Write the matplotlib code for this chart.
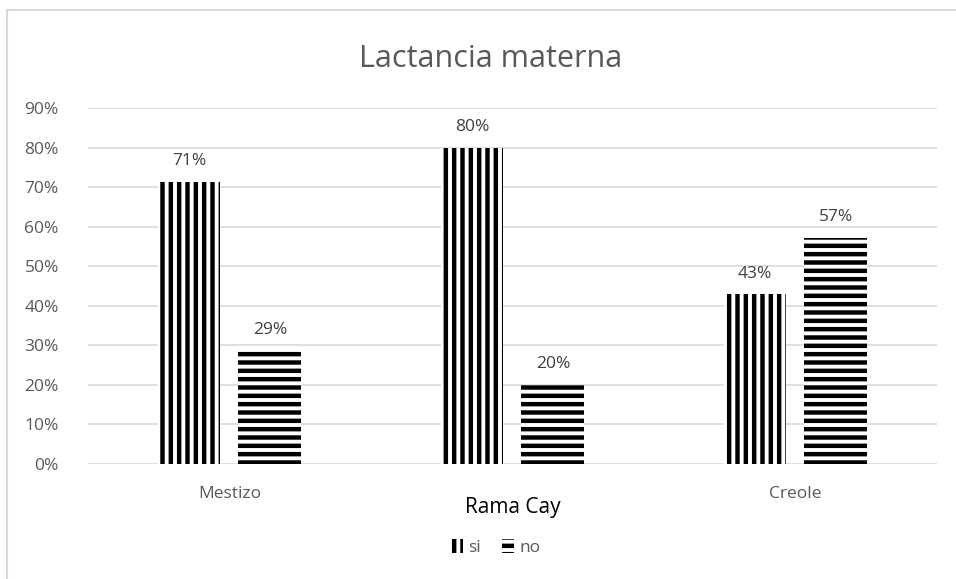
import numpy as np
import matplotlib.pyplot as plt
from matplotlib.lines import Line2D

plt.rcParams['font.family'] = ['Open Sans', 'DejaVu Sans']
plt.rcParams['hatch.linewidth'] = 3.2

# data
groups = ['Mestizo', 'Rama Cay', 'Creole']
si = [0.714, 0.80, 0.429]
no = [0.286, 0.20, 0.571]
si_labels = ['71%', '80%', '43%']
no_labels = ['29%', '20%', '57%']

fig = plt.figure(figsize=(9.56, 5.79), dpi=100)
ax = fig.add_axes([0.092, 0.199, 0.888, 0.6145])

# chart border (left and top visible)
fig.add_artist(Line2D([6.5/956, 6.5/956], [0, 1 - 9.5/579], color='#d9d9d9', lw=1.5))
fig.add_artist(Line2D([6.5/956, 1], [1 - 9.5/579, 1 - 9.5/579], color='#d9d9d9', lw=1.5))

x = np.arange(len(groups))
w = 0.222
off = 0.143
b1 = ax.bar(x - off, si, w, color='white', edgecolor='black', linewidth=0, hatch='||', label='si')
b2 = ax.bar(x + off, no, w, color='white', edgecolor='black', linewidth=0, hatch='--', label='no')

for i in range(len(groups)):
    ax.text(x[i] - off, si[i] + 0.032, si_labels[i], ha='center', va='bottom', fontsize=12.5, color='#404040')
    ax.text(x[i] + off, no[i] + 0.032, no_labels[i], ha='center', va='bottom', fontsize=12.5, color='#404040')

ax.set_xlim(-0.5, 2.5)
ax.set_ylim(0, 0.9)
ax.set_yticks(np.arange(0, 0.91, 0.1))
ax.set_yticklabels([f'{int(round(v*100))}%' for v in np.arange(0, 0.91, 0.1)])
ax.yaxis.grid(True, color='#d9d9d9', lw=1.2)
ax.set_axisbelow(True)
for s in ax.spines.values():
    s.set_visible(False)
ax.tick_params(axis='x', length=0, colors='#595959', labelsize=12.5, pad=16)
ax.tick_params(axis='y', length=0, colors='#595959', labelsize=12.5, pad=21)
ax.set_xticks(x)
ax.set_xticklabels(groups)
lbl = ax.get_xticklabels()[1]
lbl.set_fontsize(15)
lbl.set_color('black')
lbl.set_y(-0.03)

fig.text(0.513, 0.898, 'Lactancia materna', ha='center', va='center', fontsize=22, color='#595959')

ax.legend(handles=[b1, b2], loc='center', bbox_to_anchor=(0.48, -0.236), ncol=2, frameon=False,
          fontsize=12.5, labelcolor='#595959', handlelength=0.7, handleheight=0.8,
          handletextpad=0.3, columnspacing=1.2)

fig.savefig('out.png', dpi=100)
